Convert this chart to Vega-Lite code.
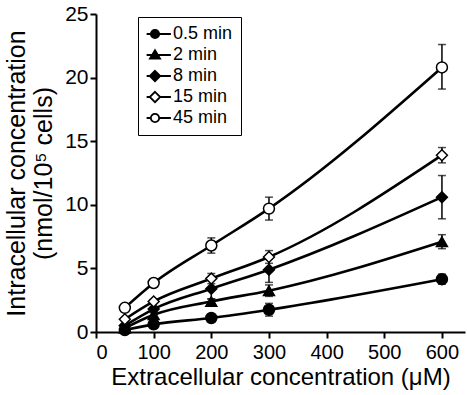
{
  "$schema": "https://vega.github.io/schema/vega-lite/v6.json",
  "autosize": {"type": "none"},
  "width": 369,
  "height": 318,
  "padding": {"left": 96, "top": 14, "right": 2, "bottom": 63},
  "background": "white",
  "config": {
    "view": {"stroke": null},
    "font": "Liberation Sans",
    "axis": {
      "domainColor": "black", "domainWidth": 2, "tickColor": "black", "tickWidth": 2, "tickSize": 6,
      "labelColor": "black", "titleColor": "black", "grid": false,
      "labelFont": "Liberation Sans", "titleFont": "Liberation Sans", "titleFontWeight": "normal"
    },
    "legend": {"labelFont": "Liberation Sans"}
  },
  "datasets": {
    "pts": [
      {"t": "0.5 min", "x": 50, "y": 0.15, "lo": 0.1, "hi": 0.2},
      {"t": "0.5 min", "x": 100, "y": 0.6, "lo": 0.5, "hi": 0.7},
      {"t": "0.5 min", "x": 200, "y": 1.1, "lo": 0.95, "hi": 1.25},
      {"t": "0.5 min", "x": 300, "y": 1.75, "lo": 1.25, "hi": 2.25},
      {"t": "0.5 min", "x": 600, "y": 4.15, "lo": 3.75, "hi": 4.55},
      {"t": "2 min", "x": 50, "y": 0.3, "lo": 0.25, "hi": 0.35},
      {"t": "2 min", "x": 100, "y": 1.35, "lo": 1.2, "hi": 1.5},
      {"t": "2 min", "x": 200, "y": 2.4, "lo": 2.2, "hi": 2.6},
      {"t": "2 min", "x": 300, "y": 3.25, "lo": 2.8, "hi": 3.7},
      {"t": "2 min", "x": 600, "y": 7.1, "lo": 6.55, "hi": 7.65},
      {"t": "8 min", "x": 50, "y": 0.5, "lo": 0.45, "hi": 0.55},
      {"t": "8 min", "x": 100, "y": 1.8, "lo": 1.6, "hi": 2.0},
      {"t": "8 min", "x": 200, "y": 3.4, "lo": 2.6, "hi": 4.2},
      {"t": "8 min", "x": 300, "y": 4.9, "lo": 3.9, "hi": 5.9},
      {"t": "8 min", "x": 600, "y": 10.6, "lo": 8.9, "hi": 12.3},
      {"t": "15 min", "x": 50, "y": 1.0, "lo": 0.9, "hi": 1.1},
      {"t": "15 min", "x": 100, "y": 2.4, "lo": 2.25, "hi": 2.55},
      {"t": "15 min", "x": 200, "y": 4.2, "lo": 3.8, "hi": 4.6},
      {"t": "15 min", "x": 300, "y": 5.9, "lo": 5.4, "hi": 6.4},
      {"t": "15 min", "x": 600, "y": 13.9, "lo": 13.3, "hi": 14.5},
      {"t": "45 min", "x": 50, "y": 1.9, "lo": 1.8, "hi": 2.0},
      {"t": "45 min", "x": 100, "y": 3.85, "lo": 3.65, "hi": 4.05},
      {"t": "45 min", "x": 200, "y": 6.8, "lo": 6.2, "hi": 7.4},
      {"t": "45 min", "x": 300, "y": 9.7, "lo": 8.8, "hi": 10.6},
      {"t": "45 min", "x": 600, "y": 20.8, "lo": 19.1, "hi": 22.6}
    ],
    "leg": [
      {"s": "0.5 min"}, {"s": "2 min"}, {"s": "8 min"}, {"s": "15 min"}, {"s": "45 min"}
    ]
  },
  "layer": [
    {
      "data": {"name": "pts"},
      "mark": {"type": "errorbar", "color": "black", "thickness": 1.5, "ticks": {"size": 8, "thickness": 1.5, "color": "black"}},
      "encoding": {
        "x": {
          "field": "x", "type": "quantitative",
          "scale": {"domain": [0, 640], "nice": false},
          "axis": {
            "values": [0, 100, 200, 300, 400, 500, 600],
            "labelFontSize": 20, "labelPadding": 4,
            "title": "Extracellular concentration (μM)", "titleFontSize": 24, "titlePadding": 3
          }
        },
        "y": {"field": "lo", "type": "quantitative", "scale": {"domain": [0, 25], "nice": false},
          "axis": {
            "values": [0, 5, 10, 15, 20, 25], "labelFontSize": 21, "labelPadding": 2,
            "title": ["Intracellular concentration", "(nmol/10⁵ cells)"],
            "titleFontSize": 25, "titleLineHeight": 27, "titlePadding": 8
          }},
        "y2": {"field": "hi"}
      }
    },
    {
      "data": {"name": "pts"},
      "mark": {"type": "line", "interpolate": "monotone", "color": "black", "strokeWidth": 2.6},
      "encoding": {
        "x": {"field": "x", "type": "quantitative"},
        "y": {"field": "y", "type": "quantitative"},
        "detail": {"field": "t"},
        "order": {"field": "x"}
      }
    },
    {
      "data": {"name": "pts"},
      "mark": {"type": "point", "stroke": "black", "strokeWidth": 1.5, "opacity": 1, "fillOpacity": 1, "size": 120},
      "encoding": {
        "x": {"field": "x", "type": "quantitative"},
        "y": {"field": "y", "type": "quantitative"},
        "shape": {"field": "t", "type": "nominal",
          "scale": {"domain": ["0.5 min", "2 min", "8 min", "15 min", "45 min"], "range": ["circle", "triangle-up", "diamond", "diamond", "circle"]},
          "legend": null},
        "fill": {"field": "t", "type": "nominal",
          "scale": {"domain": ["0.5 min", "2 min", "8 min", "15 min", "45 min"], "range": ["black", "black", "black", "white", "white"]},
          "legend": null}
      }
    },
    {
      "data": {"name": "leg"},
      "transform": [{"filter": "false"}],
      "mark": {"type": "point", "stroke": "black", "fillOpacity": 1, "strokeWidth": 1.8},
      "encoding": {
        "shape": {"field": "s", "type": "nominal",
          "scale": {"domain": ["0.5 min", "2 min", "8 min", "15 min", "45 min"],
            "range": [
              "M-2,0H-1M1,0H3.8M-1,0A1,1 0 1,1 1,0A1,1 0 1,1 -1,0Z",
              "M-2,0H3.8M0,-1.15L1.2,0.85H-1.2Z",
              "M-2,0H3.8M0,-1.25L1.25,0L0,1.25L-1.25,0Z",
              "M-2,0H-1.25M1.25,0H3.8M0,-1.25L1.25,0L0,1.25L-1.25,0Z",
              "M-2,0H-1M1,0H3.8M-1,0A1,1 0 1,1 1,0A1,1 0 1,1 -1,0Z"
            ]},
          "legend": {
            "title": null, "orient": "none", "legendX": 42, "legendY": 3,
            "padding": 8, "strokeColor": "black", "fillColor": "white",
            "labelFontSize": 18, "labelColor": "black", "labelOffset": 9,
            "symbolSize": 70, "symbolStrokeColor": "black", "symbolStrokeWidth": 1.8,
            "rowPadding": 3, "labelExpr": "datum.label + '\u00a0\u00a0\u00a0\u00a0\u00a0\u00a0'",
            "encode": {"symbols": {"update": {"stroke": {"value": "black"}, "strokeWidth": {"value": 1.8}}}}
          }},
        "fill": {"field": "s", "type": "nominal",
          "scale": {"domain": ["0.5 min", "2 min", "8 min", "15 min", "45 min"], "range": ["black", "black", "black", "white", "white"]},
          "legend": {
            "title": null, "orient": "none", "legendX": 42, "legendY": 3,
            "padding": 8, "strokeColor": "black", "fillColor": "white",
            "labelFontSize": 18, "labelColor": "black", "labelOffset": 9,
            "symbolSize": 70, "symbolStrokeColor": "black", "symbolStrokeWidth": 1.8,
            "rowPadding": 3, "labelExpr": "datum.label + '\u00a0\u00a0\u00a0\u00a0\u00a0\u00a0'",
            "encode": {"symbols": {"update": {"stroke": {"value": "black"}, "strokeWidth": {"value": 1.8}}}}
          }}
      }
    }
  ],
  "resolve": {"scale": {"shape": "independent", "fill": "independent"}}
}
